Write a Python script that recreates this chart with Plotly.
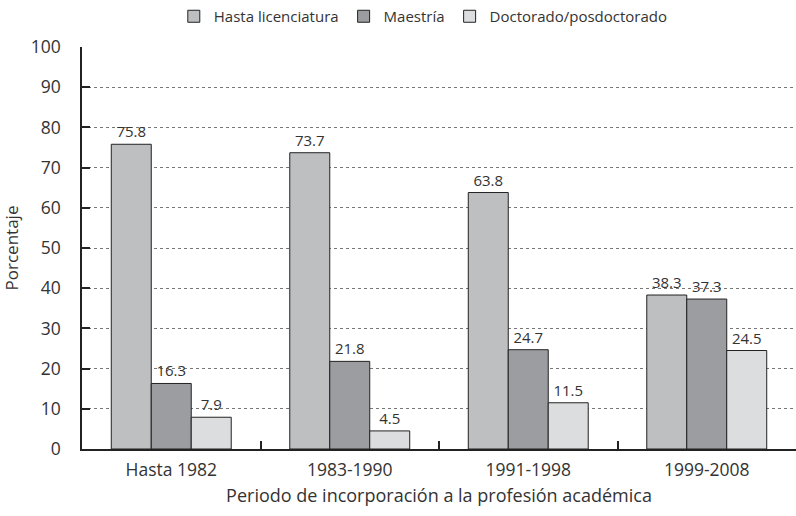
import plotly.graph_objects as go

categories = ["Hasta 1982", "1983-1990", "1991-1998", "1999-2008"]
series_names = ["Hasta licenciatura", "Maestría", "Doctorado/posdoctorado"]
licenciatura = [75.8, 73.7, 63.8, 38.3]
maestria = [16.3, 21.8, 24.7, 37.3]
doctorado = [7.9, 4.5, 11.5, 24.5]
y_ticks = [0, 10, 20, 30, 40, 50, 60, 70, 80, 90, 100]

colors = ["#bebfc1", "#9c9da0", "#dcdddf"]
FONT = "Open Sans"
TXT = "#333333"

fig = go.Figure()
for name, vals, col in zip(series_names, [licenciatura, maestria, doctorado], colors):
    fig.add_trace(go.Bar(
        name=name, x=categories, y=vals,
        marker=dict(color=col, line=dict(color="#222222", width=1)),
        text=[f"{v:.1f}" for v in vals], textposition="outside",
        textfont=dict(family=FONT, size=15, color=TXT),
        cliponaxis=False,
    ))

fig.update_layout(
    width=796, height=516,
    margin=dict(l=82, r=0, t=47, b=67, autoexpand=False),
    paper_bgcolor="white", plot_bgcolor="white",
    barmode="group", bargap=0.328, bargroupgap=0,
    font=dict(family=FONT, size=16, color=TXT),
    showlegend=True,
    legend=dict(orientation="h", x=0.478, xanchor="center", y=1.0, yanchor="top",
                yref="container", font=dict(family=FONT, size=15, color=TXT),
                traceorder="normal", itemwidth=30),
)

fig.update_xaxes(
    automargin=False,
    showline=True, linecolor="#222222", linewidth=1.5,
    ticks="inside", tickson="boundaries", ticklen=8, tickcolor="#222222", tickwidth=1.5,
    tickfont=dict(family=FONT, size=17.5, color=TXT),
    ticklabelstandoff=4,
    title=dict(text="Periodo de incorporación a la profesión académica",
               font=dict(family=FONT, size=18, color=TXT), standoff=10),
    showgrid=False,
)
fig.update_yaxes(
    automargin=False,
    range=[0, 100], tickvals=y_ticks,
    showline=True, linecolor="#222222", linewidth=1.5,
    ticks="inside", ticklen=8, tickcolor="#222222", tickwidth=1.5,
    tickfont=dict(family=FONT, size=17.5, color=TXT),
    ticklabelstandoff=16,
    showgrid=True, gridcolor="#777777", griddash="dot", gridwidth=1,
    title=dict(text="Porcentaje", font=dict(family=FONT, size=17, color=TXT), standoff=8),
    zeroline=False,
)

fig.write_html("out.html", config={"displayModeBar": False},
               post_script="document.body.style.margin='0px';")
